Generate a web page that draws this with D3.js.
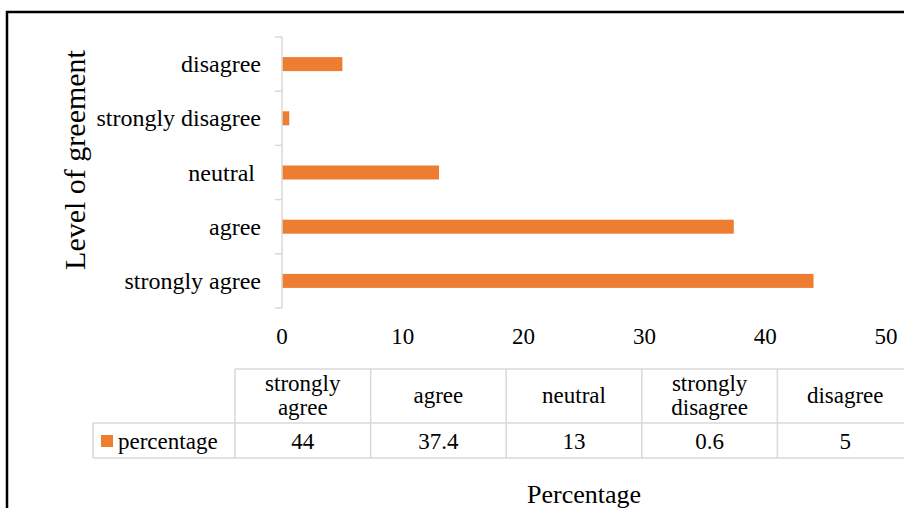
<!DOCTYPE html>
<html>
<head>
<meta charset="utf-8">
<script src="https://cdn.jsdelivr.net/npm/d3@7"></script>
<style>
  html, body { margin: 0; padding: 0; background: #fff; }
  svg { display: block; }
</style>
</head>
<body>
<script>
// Survey responses: level of agreement (percent of respondents)
const categories = ["strongly agree", "agree", "neutral", "strongly disagree", "disagree"];
const axisLabels = ["strongly agree", "agree", "neutral ", "strongly disagree", "disagree"];
const percentage = [44, 37.4, 13, 0.6, 5];
const xTicks = [0, 10, 20, 30, 40, 50];
const seriesName = "percentage";

const W = 904, H = 508;
const barColor = "#ED7D31";
const gridGrey = "#d9d9d9";
const serif = "'Liberation Serif', 'Times New Roman', Times, serif";

const svg = d3.select("body").append("svg")
  .attr("width", W).attr("height", H)
  .attr("font-family", serif);

// outer frame
svg.append("rect")
  .attr("x", 7).attr("y", 12)
  .attr("width", W + 20).attr("height", H + 20)
  .attr("fill", "none").attr("stroke", "#000").attr("stroke-width", 2.5);

const x = d3.scaleLinear().domain([0, 50]).range([282, 886]);
// top-to-bottom order is the reverse of the table order
const y = d3.scaleBand().domain(categories.slice().reverse()).range([37, 308]);

// bars
svg.append("g").selectAll("rect")
  .data(categories)
  .join("rect")
  .attr("x", x(0))
  .attr("y", d => y(d) + y.bandwidth() / 2 - 7)
  .attr("width", (d, i) => x(percentage[i]) - x(0))
  .attr("height", 14)
  .attr("fill", barColor);

// vertical category axis
const yAxis = svg.append("g");
yAxis.append("line")
  .attr("x1", x(0)).attr("x2", x(0))
  .attr("y1", y.range()[0]).attr("y2", y.range()[1])
  .attr("stroke", gridGrey).attr("stroke-width", 1.5);
const bounds = y.domain().map(d => y(d)).concat([y.range()[1]]);
yAxis.selectAll("line.tick")
  .data(bounds)
  .join("line")
  .attr("class", "tick")
  .attr("x1", x(0) - 7).attr("x2", x(0))
  .attr("y1", d => d).attr("y2", d => d)
  .attr("stroke", gridGrey).attr("stroke-width", 1.5);
yAxis.selectAll("text")
  .data(categories)
  .join("text")
  .attr("x", 261)
  .attr("y", d => y(d) + y.bandwidth() / 2 + 8)
  .attr("text-anchor", "end")
  .attr("font-family", serif)
  .attr("font-size", 24)
  .style("white-space", "pre")
  .text((d, i) => axisLabels[i]);

// value tick labels
svg.append("g").selectAll("text")
  .data(xTicks)
  .join("text")
  .attr("x", d => x(d))
  .attr("y", 344)
  .attr("text-anchor", "middle")
  .attr("font-family", serif)
  .attr("font-size", 23)
  .text(d => d);

// axis titles
svg.append("text")
  .attr("transform", "translate(85,160) rotate(-90)")
  .attr("text-anchor", "middle")
  .attr("font-family", serif)
  .attr("font-size", 30)
  .text("Level of greement");
svg.append("text")
  .attr("x", 584).attr("y", 503)
  .attr("text-anchor", "middle")
  .attr("font-family", serif)
  .attr("font-size", 26)
  .text("Percentage");

// data table
const col = d3.scaleBand().domain(categories).range([235, 913]);
const rowTop = 369, rowMid = 423, rowBot = 458;
const table = svg.append("g");
const tLine = (x1, y1, x2, y2) => table.append("line")
  .attr("x1", x1).attr("y1", y1).attr("x2", x2).attr("y2", y2)
  .attr("stroke", gridGrey).attr("stroke-width", 1.5);
tLine(235, rowTop, 913, rowTop);
tLine(93, rowMid, 913, rowMid);
tLine(93, rowBot, 913, rowBot);
tLine(93, rowMid, 93, rowBot);
categories.forEach(c => tLine(col(c), rowTop, col(c), rowBot));
tLine(col.range()[1], rowTop, col.range()[1], rowBot);

// header cells (wrapped on spaces where two words)
categories.forEach(c => {
  const words = c.split(" ");
  const cx = col(c) + col.bandwidth() / 2;
  const t = table.append("text")
    .attr("text-anchor", "middle")
    .attr("font-family", serif)
    .attr("font-size", 23);
  if (words.length > 1) {
    t.append("tspan").attr("x", cx).attr("y", 391).text(words[0]);
    t.append("tspan").attr("x", cx).attr("y", 415).text(words.slice(1).join(" "));
  } else {
    t.attr("x", cx).attr("y", 403).text(c);
  }
});

// value cells
table.selectAll("text.val")
  .data(percentage)
  .join("text")
  .attr("class", "val")
  .attr("x", (d, i) => col(categories[i]) + col.bandwidth() / 2)
  .attr("y", 449)
  .attr("text-anchor", "middle")
  .attr("font-family", serif)
  .attr("font-size", 23)
  .text(d => d);

// legend key inside the table
table.append("rect")
  .attr("x", 101).attr("y", 435)
  .attr("width", 12).attr("height", 12)
  .attr("fill", barColor);
table.append("text")
  .attr("x", 118).attr("y", 449)
  .attr("font-family", serif)
  .attr("font-size", 23)
  .text(seriesName);
</script>
</body>
</html>
